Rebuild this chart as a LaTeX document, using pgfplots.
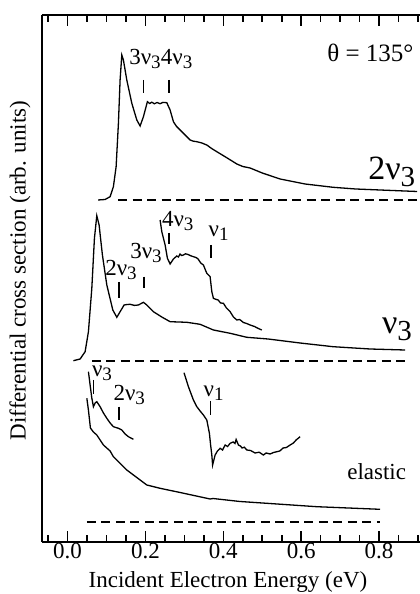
\documentclass[border=0pt]{standalone}
\usepackage{fontspec}
\setmainfont{Liberation Serif}
\usepackage{pgfplots}
\pgfplotsset{compat=1.18}
\newcommand{\lab}{\fontsize{23}{27}\selectfont}
\newcommand{\sub}[1]{\raisebox{-4pt}{\fontsize{19}{21}\selectfont #1}}
\newcommand{\bsub}[1]{\raisebox{-7pt}{\fontsize{29}{31}\selectfont #1}}
\pgfplotsset{
  crv/.style={black, solid, line width=1.3pt, no marks},
  dsh/.style={black, line width=1.4pt, no marks, dash pattern=on 9pt off 5.5pt},
}
\begin{document}
\begin{tikzpicture}
\begin{axis}[
  scale only axis, width=378pt, height=526.7pt,
  xmin=-0.0655, xmax=0.905, ymin=52.3, ymax=579,
  axis x line*=box, axis y line*=left,
  axis line style={-, line width=1.8pt},
  ytick=\empty,
  xtick={0,0.2,0.4,0.6,0.8}, xticklabels={0.0,0.2,0.4,0.6,0.8},
  minor xtick={-0.05,0.05,0.1,0.15,0.25,0.3,0.35,0.45,0.5,0.55,0.65,0.7,0.75,0.85,0.9},
  tick align=inside,
  major tick length=11pt, minor tick length=7pt,
  every tick/.style={line width=1.6pt, black},
  xticklabel style={font=\lab, yshift=2.5pt},
  /pgf/number format/assume math mode=true,
  xlabel={Incident Electron Energy (eV)},
  xlabel style={font=\lab, at={(axis description cs:0.492,-0.0765)}, anchor=center},
  ylabel={Differential cross section (arb. units)},
  ylabel style={font=\lab, at={(axis description cs:-0.058,0.515)}, anchor=center, rotate=0},
  clip=false,
]
% ---- top: 2nu3 ----
\addplot[crv] coordinates {(0.0786,394) (0.0965,394.5) (0.1094,397.3) (0.1178,407.3) (0.1248,427.3) (0.1307,470.7) (0.1350,514) (0.1394,539) (0.1435,534) (0.1522,514) (0.1651,490.7) (0.1779,474) (0.1864,468) (0.1949,477.3) (0.2051,492.3) (0.2110,490.5) (0.2164,491.8) (0.2230,490.2) (0.2300,491.5) (0.2377,490.3) (0.2450,491.6) (0.2549,491.3) (0.2634,484) (0.2719,472.3) (0.2800,467.5) (0.2891,464) (0.3020,459) (0.3148,454) (0.3230,452.8) (0.3320,452.3) (0.3450,451) (0.3576,449) (0.3700,445.5) (0.3833,442.3) (0.4100,436) (0.4347,430) (0.4500,427.5) (0.4688,426) (0.5000,421) (0.5458,415) (0.6100,410) (0.6819,406.7) (0.7400,405) (0.8025,404) (0.8977,402.5)};
\addplot[dsh] coordinates {(0.130,394) (0.905,394)};
\addplot[crv] coordinates {(0.1949,514) (0.1949,501)};
\addplot[crv] coordinates {(0.2608,514) (0.2608,501)};
\node[font=\lab, anchor=base west, inner sep=0pt] at (axis cs:0.158,529) {3ν\sub{3}};
\node[font=\lab, anchor=base west, inner sep=0pt] at (axis cs:0.2395,529) {4ν\sub{3}};
\node[anchor=base west, inner sep=0pt, font=\fontsize{25}{29}\selectfont] at (axis cs:0.6665,532) {θ = 135°};
\node[anchor=base west, inner sep=0pt, font=\fontsize{34}{40}\selectfont] at (axis cs:0.7718,414) {2ν\bsub{3}};
% ---- middle: nu3 ----
\addplot[crv] coordinates {(0.0151,233.3) (0.0324,235) (0.0452,242.3) (0.0537,262.3) (0.0624,305.7) (0.0691,355.7) (0.0752,378.3) (0.0811,369) (0.0896,339) (0.1009,309) (0.1163,284) (0.1266,276.7) (0.1350,282.3) (0.1453,289) (0.1530,289.5) (0.1607,289.7) (0.1720,288.6) (0.1820,289) (0.1949,291.7) (0.2036,289) (0.2205,282.3) (0.2420,277) (0.2634,272.3) (0.2850,272) (0.3063,271.7) (0.3404,269.7) (0.3746,264) (0.4175,260.7) (0.4603,256.7) (0.5150,255) (0.5972,251) (0.6819,247.3) (0.7769,245) (0.8667,244)};
\addplot[crv] coordinates {(0.2377,374) (0.2421,362.3) (0.2506,349) (0.2565,335.7) (0.2634,330) (0.2719,335) (0.2806,338) (0.2850,337) (0.2888,340) (0.2930,338.5) (0.2976,339) (0.3030,340.2) (0.3096,339.5) (0.3160,338.3) (0.3232,337.3) (0.3300,336.5) (0.3353,335) (0.3420,331) (0.3489,329) (0.3530,325) (0.3576,320.7) (0.3661,317.3) (0.3705,302.3) (0.3746,295.7) (0.3800,294.8) (0.3867,294) (0.3930,291) (0.4003,290.7) (0.4080,286) (0.4175,282.3) (0.4260,277) (0.4347,274) (0.4420,274.5) (0.4516,271.5) (0.4600,270.5) (0.4688,269) (0.4800,267.5) (0.4900,265.5) (0.4988,264)};
\addplot[dsh] coordinates {(0.0624,233) (0.8667,233)};
\addplot[crv] coordinates {(0.1325,312) (0.1325,296)};
\addplot[crv] coordinates {(0.1967,317.3) (0.1967,305.7)};
\addplot[crv] coordinates {(0.2608,361) (0.2608,350)};
\addplot[crv] coordinates {(0.3687,349) (0.3687,336)};
\node[font=\lab, anchor=base west, inner sep=0pt] at (axis cs:0.0965,318.3) {2ν\sub{3}};
\node[font=\lab, anchor=base west, inner sep=0pt] at (axis cs:0.1607,335.7) {3ν\sub{3}};
\node[font=\lab, anchor=base west, inner sep=0pt] at (axis cs:0.2421,367.3) {4ν\sub{3}};
\node[font=\lab, anchor=base west, inner sep=0pt] at (axis cs:0.3618,357.3) {ν\sub{1}};
\node[anchor=base west, inner sep=0pt, font=\fontsize{34}{40}\selectfont] at (axis cs:0.807,260.7) {ν\bsub{3}};
% ---- bottom: elastic ----
\addplot[crv] coordinates {(0.0496,195.7) (0.0537,184) (0.0588,166) (0.0665,162) (0.0752,159) (0.0922,149) (0.1094,143) (0.1178,137.3) (0.1307,132.3) (0.1522,124) (0.1692,119) (0.1864,114) (0.2036,109) (0.2377,105.7) (0.2891,101.5) (0.3661,95) (0.3738,95.5) (0.4431,92.5) (0.5117,90.7) (0.6400,87.3) (0.8023,84.7)};
\addplot[crv] coordinates {(0.0537,222.3) (0.0580,209) (0.0624,196) (0.0665,187.3) (0.0709,191) (0.0752,192.3) (0.0837,187.3) (0.0922,181) (0.1009,175.7) (0.1094,171) (0.1178,167.3) (0.1307,165.7) (0.1394,164) (0.1479,160) (0.1564,157.3) (0.1692,154.7)};
\addplot[crv] coordinates {(0.2991,221.3) (0.3104,207.3) (0.3232,194) (0.3320,187.3) (0.3404,183) (0.3489,179) (0.3576,174) (0.3643,160.7) (0.3674,149) (0.3705,139) (0.3725,129) (0.3790,139) (0.3850,143) (0.3918,145.7) (0.3980,144) (0.4047,149) (0.4110,147.5) (0.4175,150.7) (0.4252,152) (0.4300,150.5) (0.4329,154.5) (0.4388,149) (0.4440,148) (0.4483,146) (0.4540,146.8) (0.4603,144) (0.4700,143.5) (0.4816,141) (0.4920,141.8) (0.5029,139) (0.5100,141) (0.5201,140) (0.5290,141.5) (0.5374,142.3) (0.5450,143) (0.5536,146) (0.5620,146.5) (0.5715,149) (0.5800,151) (0.5869,154) (0.5972,157.3)};
\addplot[dsh] coordinates {(0.0496,72) (0.8025,72)};
\addplot[crv] coordinates {(0.0665,214) (0.0665,200)};
\addplot[crv] coordinates {(0.1325,187.3) (0.1325,174)};
\addplot[crv] coordinates {(0.3679,193) (0.3679,179)};
\node[font=\lab, anchor=base west, inner sep=0pt] at (axis cs:0.0624,217.3) {ν\sub{3}};
\node[font=\lab, anchor=base west, inner sep=0pt] at (axis cs:0.1178,193.3) {2ν\sub{3}};
\node[font=\lab, anchor=base west, inner sep=0pt] at (axis cs:0.349,197.3) {ν\sub{1}};
\node[font=\lab, anchor=base west, inner sep=0pt] at (axis cs:0.7178,114) {elastic};
\end{axis}
\pgfresetboundingbox
\path[use as bounding box] (-42pt,-52.3pt) rectangle (378pt,541.7pt);
\end{tikzpicture}
\end{document}
